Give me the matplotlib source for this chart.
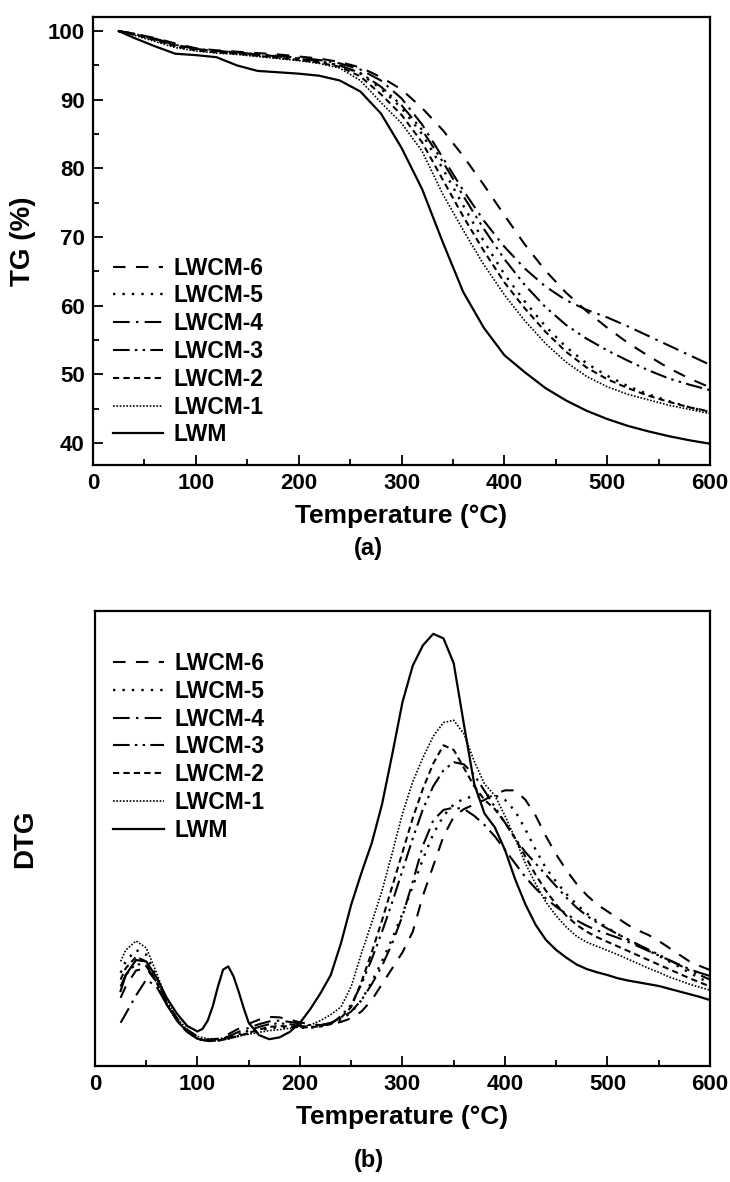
import matplotlib
matplotlib.use('Agg')
import matplotlib.pyplot as plt
from matplotlib.ticker import MultipleLocator

plt.rcParams['font.family'] = ['Liberation Sans', 'DejaVu Sans']
plt.rcParams['font.weight'] = 'bold'

# ---- TG data (%) ----
t_tg = [25, 40, 60, 80, 100, 120, 140, 160, 180, 200, 220, 240, 260, 280, 300,
        320, 340, 360, 380, 400, 420, 440, 460, 480, 500, 520, 540, 560, 580, 600]
tg_lwm = [100, 99.0, 97.8, 96.7, 96.5, 96.2, 95.0, 94.2, 94.0, 93.8, 93.5, 92.8, 91.2, 88.0, 83.0,
          77.0, 69.3, 62.0, 56.8, 52.8, 50.3, 48.0, 46.2, 44.7, 43.5, 42.5, 41.7, 41.0, 40.4, 39.9]
tg_1 = [100, 99.4, 98.5, 97.6, 97.1, 96.8, 96.6, 96.3, 96.0, 95.7, 95.3, 94.6, 92.8, 89.6, 86.6,
        82.5, 76.3, 71.0, 66.0, 61.6, 57.8, 54.5, 51.8, 49.7, 48.2, 47.1, 46.3, 45.5, 44.9, 44.3]
tg_2 = [100, 99.5, 98.7, 97.8, 97.2, 96.9, 96.7, 96.4, 96.1, 95.8, 95.4, 94.8, 93.4, 90.8, 87.8,
        83.8, 78.4, 73.0, 68.0, 63.4, 59.6, 56.2, 53.3, 51.0, 49.3, 48.0, 46.9, 46.0, 45.2, 44.6]
tg_3 = [100, 99.6, 98.9, 98.0, 97.4, 97.1, 96.9, 96.6, 96.3, 96.0, 95.6, 95.0, 93.9, 91.9, 89.2,
        85.6, 81.0, 76.0, 71.2, 66.8, 63.0, 59.8, 57.2, 55.2, 53.5, 52.0, 50.6, 49.4, 48.5, 47.7]
tg_4 = [100, 99.6, 98.9, 98.0, 97.4, 97.1, 96.9, 96.6, 96.4, 96.1, 95.8, 95.3, 94.4, 92.8, 90.2,
        86.4, 81.6, 76.8, 72.4, 68.6, 65.4, 62.8, 60.8, 59.4, 58.3, 57.0, 55.6, 54.2, 52.8, 51.4]
tg_5 = [100, 99.6, 98.8, 97.9, 97.3, 97.0, 96.8, 96.5, 96.2, 95.9, 95.6, 95.0, 93.8, 91.6, 88.8,
        85.0, 80.0, 74.6, 69.4, 64.6, 60.6, 57.0, 54.0, 51.6, 49.8, 48.3, 47.1, 46.1, 45.2, 44.5]
tg_6 = [100, 99.6, 99.0, 98.2, 97.5, 97.2, 97.0, 96.8, 96.6, 96.3, 96.0, 95.5, 94.7, 93.3, 91.5,
        88.8, 85.6, 81.8, 77.6, 73.2, 68.9, 65.1, 61.9, 59.2, 56.8, 54.6, 52.7, 50.9, 49.4, 48.1]

# ---- DTG data (arbitrary units) ----
t_dtg = [25] + list(range(30, 601, 10))
# LWM has a narrow peak near 128 C, so it is read at a few extra temperatures
t_dtg_lwm = [25, 30, 40, 50, 60, 70, 80, 90, 100, 105, 110, 115, 120, 125, 130, 135, 140, 145,
             150] + list(range(160, 601, 10))
dtg_lwm = [16.5, 20.0, 23.3, 23.0, 19.5, 15.0, 11.5, 8.8, 7.6, 8.2, 10.0, 13.2, 17.5, 21.2, 21.9,
           19.8, 16.5, 12.8, 9.5, 6.8,
           5.9, 6.3, 7.5, 9.5, 12.5, 16.0, 20.0, 27.0, 35.5, 42.5, 49.0, 57.5, 68.5, 80.0, 88.0,
           92.5, 95.0, 94.0, 88.5, 75.0, 62.0, 55.5, 52.5, 47.5, 41.0, 35.5, 31.0, 27.7, 25.5, 23.8,
           22.3, 21.3, 20.6, 20.0, 19.3, 18.8, 18.4, 18.0, 17.6, 17.0, 16.4, 15.8, 15.2, 14.5]
dtg_1 = [23.0, 25.5, 27.5, 26.0, 20.5, 14.5, 10.5, 8.0, 6.5, 6.0, 6.0, 6.3, 6.6, 7.0, 7.4,
         7.8, 8.0, 8.3, 8.6, 9.0, 10.0, 11.3, 13.0, 17.5, 24.8, 31.5, 38.5, 46.8, 55.5, 62.5,
         67.8, 72.5, 75.5, 76.0, 73.0, 67.0, 62.0, 59.5, 55.0, 50.0, 44.5, 40.0, 36.0, 33.0, 30.5,
         28.5, 27.2, 26.3, 25.4, 24.5, 23.5, 22.5, 21.5, 20.6, 19.6, 18.8, 18.0, 17.3, 16.7]
dtg_2 = [19.0, 21.5, 24.0, 23.0, 18.5, 13.5, 10.0, 7.5, 6.0, 5.5, 5.6, 6.0, 6.6, 7.3, 8.0,
         8.6, 8.8, 8.7, 8.5, 8.5, 8.8, 9.5, 10.6, 13.0, 18.5, 25.0, 32.0, 39.5, 47.0, 54.5,
         61.0, 66.5, 70.5, 69.5, 65.5, 61.5, 58.5, 56.5, 53.5, 50.0, 46.0, 42.0, 38.5, 35.5, 33.0,
         31.0, 29.5, 28.3, 27.3, 26.3, 25.3, 24.3, 23.3, 22.3, 21.3, 20.3, 19.3, 18.4, 17.5]
dtg_3 = [17.5, 20.0, 22.5, 22.0, 18.5, 13.5, 10.0, 7.5, 6.0, 5.5, 5.6, 6.2, 7.0, 7.8, 8.6,
         9.2, 9.4, 9.2, 8.8, 8.6, 8.7, 9.2, 11.0, 13.5, 18.0, 23.5, 29.5, 36.0, 43.0, 50.0,
         56.5, 61.5, 65.0, 66.8, 66.3, 64.0, 60.5, 57.0, 53.5, 50.0, 47.0, 44.5, 42.0, 39.5, 37.0,
         34.8, 33.0, 31.5, 30.2, 29.0, 27.8, 26.7, 25.6, 24.5, 23.3, 22.2, 21.0, 20.0, 19.0]
dtg_4 = [9.5, 11.5, 15.5, 19.0, 17.5, 13.5, 10.0, 7.5, 6.0, 5.5, 5.8, 6.5, 7.5, 8.4, 9.2,
         9.8, 10.0, 9.7, 9.3, 9.0, 9.0, 9.5, 10.5, 12.0, 14.5, 18.0, 22.0, 27.0, 33.0, 40.5,
         48.5, 54.0, 56.3, 56.8, 56.5, 55.0, 53.0, 50.5, 47.5, 44.5, 41.5, 39.0, 36.8, 35.0, 33.4,
         32.0, 30.8, 29.8, 29.0, 28.2, 27.3, 26.3, 25.3, 24.3, 23.3, 22.3, 21.3, 20.5, 19.8]
dtg_5 = [20.5, 23.0, 25.5, 24.5, 19.5, 14.0, 10.0, 7.5, 6.0, 5.5, 5.6, 6.0, 6.6, 7.2, 7.8,
         8.3, 8.5, 8.5, 8.4, 8.4, 8.7, 9.3, 10.2, 11.8, 14.5, 18.5, 23.0, 28.0, 33.5, 39.5,
         45.5, 51.0, 55.0, 57.5, 58.8, 59.3, 59.5, 59.5, 58.5, 56.0, 52.0, 47.5, 43.5, 40.5, 37.8,
         35.5, 33.5, 31.8, 30.4, 29.0, 27.8, 26.6, 25.4, 24.2, 23.0, 21.8, 20.5, 19.3, 18.3]
dtg_6 = [15.0, 17.5, 21.0, 21.5, 18.5, 14.0, 10.5, 8.0, 6.5, 5.8, 6.0, 7.0, 8.2, 9.3, 10.2,
         10.8, 10.7, 10.2, 9.6, 9.2, 9.0, 9.2, 9.7, 10.5, 12.0, 14.5, 18.0, 21.5, 25.0, 29.5,
         37.5, 44.0, 50.5, 54.8, 56.5, 57.5, 58.5, 59.8, 60.6, 60.6, 58.5, 55.0, 50.5, 46.5, 43.0,
         40.0, 37.5, 35.5, 34.0, 32.5, 31.0, 29.8, 28.8, 27.5, 26.0, 24.5, 23.0, 22.0, 21.1]

labels = ['LWCM-6', 'LWCM-5', 'LWCM-4', 'LWCM-3', 'LWCM-2', 'LWCM-1', 'LWM']
styles = [(0, (6, 5)), (0, (1, 3)), (0, (8, 3, 1.2, 3)), (0, (8, 2.5, 1.2, 2.5, 1.2, 2.5)),
          (0, (3, 2)), (0, (1, 1)), '-']
widths = [1.5, 1.7, 1.5, 1.5, 1.5, 1.2, 1.6]
tg_all = [tg_6, tg_5, tg_4, tg_3, tg_2, tg_1, tg_lwm]
dtg_all = [dtg_6, dtg_5, dtg_4, dtg_3, dtg_2, dtg_1, dtg_lwm]
dtg_t = [t_dtg] * 6 + [t_dtg_lwm]

fig = plt.figure(figsize=(7.3, 11.82), dpi=100)
ax1 = fig.add_axes([0.1274, 0.6066, 0.8452, 0.3793])
ax2 = fig.add_axes([0.1301, 0.0981, 0.8425, 0.3849])


def style_axis(ax):
    for s in ax.spines.values():
        s.set_linewidth(1.6)
    ax.set_xlim(0, 600)
    ax.xaxis.set_major_locator(MultipleLocator(100))
    ax.xaxis.set_minor_locator(MultipleLocator(50))
    ax.tick_params(which='major', direction='in', length=7, width=1.3, labelsize=16, pad=6)
    ax.tick_params(which='minor', direction='in', length=4, width=1.3)
    ax.tick_params(top=False, right=False)
    for lb in ax.get_xticklabels() + ax.get_yticklabels():
        lb.set_fontweight('bold')
    ax.set_xlabel('Temperature (°C)', fontsize=19, fontweight='bold', labelpad=7)


leg_kw = dict(loc='upper left', frameon=False, fontsize=16.5, handlelength=2.2,
              handletextpad=0.45, labelspacing=0.21, borderpad=0, borderaxespad=0)

for y, lab, ls, lw in zip(tg_all, labels, styles, widths):
    ax1.plot(t_tg, y, color='black', linestyle=ls, linewidth=lw, label=lab)
ax1.set_ylim(36.8, 102.1)
ax1.yaxis.set_major_locator(MultipleLocator(10))
ax1.yaxis.set_minor_locator(MultipleLocator(5))
style_axis(ax1)
ax1.set_ylabel('TG (%)', fontsize=20, fontweight='bold', labelpad=8)
ax1.legend(bbox_to_anchor=(0.032, 0.465), **leg_kw)

for t, y, lab, ls, lw in zip(dtg_t, dtg_all, labels, styles, widths):
    ax2.plot(t, y, color='black', linestyle=ls, linewidth=lw, label=lab)
ax2.set_ylim(0, 100)
ax2.set_yticks([])
style_axis(ax2)
ax2.set_ylabel('DTG', fontsize=20, fontweight='bold', labelpad=41)
ax2.legend(bbox_to_anchor=(0.03, 0.91), **leg_kw)

fig.text(0.505, 1 - 548 / 1182, '(a)', ha='center', va='center', fontsize=17, fontweight='bold')
fig.text(0.505, 1 - 1160 / 1182, '(b)', ha='center', va='center', fontsize=17, fontweight='bold')

fig.savefig('out.png', dpi=100)
